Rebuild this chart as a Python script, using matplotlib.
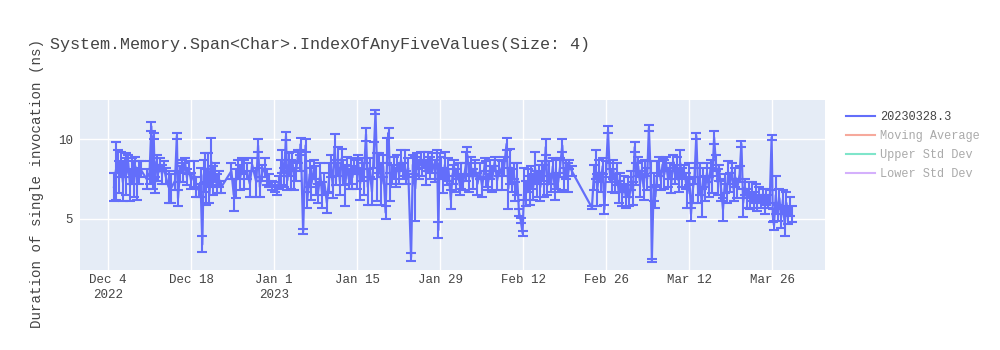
import matplotlib
matplotlib.use("Agg")
import matplotlib.pyplot as plt
from matplotlib.lines import Line2D
import numpy as np
import pandas as pd

# benchmark runs: day offset from first run, mean duration (ns), std dev (ns)
base_day = pd.Timestamp("2022-12-05")
day_off = [
    0.0, 0.3, 0.6, 0.9, 1.2, 1.5, 1.8, 2.1, 2.4, 2.7, 3.0, 3.3, 3.6, 3.9, 4.2, 4.5,
    5.5, 6.0, 6.3, 6.5, 6.7, 6.9, 7.2, 7.5, 7.8, 8.1, 8.4, 8.7,
    9.2, 9.6, 10.3, 10.6, 10.8, 11.1, 11.4, 11.7, 12.0, 12.3, 12.6, 13.0,
    13.5, 13.9, 14.3, 14.6, 14.9, 15.1, 15.4, 15.6, 15.9, 16.1, 16.4, 16.7, 17.0, 17.3, 17.7, 18.1,
    19.8, 20.2, 20.5, 20.9, 21.3, 21.6, 22.0, 22.4, 22.9, 23.3,
    24.0, 24.3, 24.6, 25.0, 25.4, 25.8, 26.2, 26.6,
    27.2, 27.5, 27.8, 28.1, 28.4, 28.7, 29.0, 29.2, 29.5, 29.8, 30.1, 30.4, 30.7, 31.0, 31.3, 31.5, 31.9,
    32.3, 32.6, 33.0, 33.3, 33.7, 34.0, 34.4, 34.8, 35.1, 35.5, 35.9, 36.3, 36.6, 36.9, 37.2, 37.5,
    37.8, 38.1, 38.4, 38.7, 39.0, 39.3, 39.6, 39.9, 40.2, 40.5,
    40.9, 41.2, 41.5, 41.8, 42.1, 42.5, 42.8, 43.1, 43.5, 43.8, 44.1, 44.4, 44.7, 45.1, 45.4, 45.8,
    46.1, 46.3, 46.6, 46.9, 47.2, 47.5, 47.8, 48.1, 48.4, 48.7, 49.0, 49.3, 49.6,
    50.1, 50.4, 50.8, 51.1, 51.4, 51.7, 52.0, 52.3, 52.6, 53.0, 53.3, 53.7, 54.1, 54.5, 54.7, 54.9,
    55.2, 55.5, 55.8, 56.1, 56.4, 56.8, 57.1, 57.4, 57.7, 58.0, 58.3, 58.6, 58.9, 59.3, 59.6, 59.9,
    60.2, 60.5, 60.9, 61.3, 61.7, 62.1, 62.5, 62.8, 63.1, 63.4, 63.8, 64.2,
    64.6, 65.0, 65.4, 65.8, 66.2, 66.5, 66.8, 67.1, 67.4, 67.7, 68.0, 68.3, 68.6, 68.9, 69.2,
    69.5, 69.8, 70.1, 70.4, 70.7, 71.0, 71.3, 71.6, 71.9, 72.2, 72.5, 72.8, 73.1, 73.4, 73.7,
    74.0, 74.3, 74.6, 74.9, 75.2, 75.6, 75.9, 76.2, 76.5, 76.8, 77.2,
    80.6, 80.9, 81.2, 81.5, 81.8, 82.1, 82.4, 82.7, 83.0, 83.3, 83.6,
    83.9, 84.2, 84.5, 84.8, 85.1, 85.4, 85.7, 86.0, 86.3, 86.6, 86.9, 87.2, 87.5, 87.8, 88.1,
    88.4, 88.7, 89.0, 89.3, 89.6, 89.9, 90.2, 90.5, 90.7, 91.0, 91.3, 91.6, 91.9, 92.2, 92.5,
    92.8, 93.1, 93.4, 93.7, 94.0, 94.3, 94.6, 94.9, 95.2, 95.5, 95.8, 96.1,
    96.4, 96.7, 97.0, 97.3, 97.6, 97.9, 98.2, 98.5, 98.8, 99.1, 99.4, 99.7, 100.0, 100.3, 100.6,
    100.9, 101.2, 101.5, 101.8, 102.1, 102.4, 102.7, 103.0, 103.3, 103.6, 103.9, 104.2,
    104.5, 104.8, 105.1, 105.5, 105.8, 106.1, 106.4, 106.7, 107.0, 107.3, 107.6, 107.9, 108.2,
    108.5, 108.8, 109.1, 109.4, 109.7, 110.0, 110.3, 110.6, 110.9, 111.1, 111.3, 111.6, 111.9,
    112.2, 112.5, 112.8, 113.1, 113.4, 113.7, 114.0, 114.3,
]
mean_ns = [
    7.0, 8.0, 8.6, 7.6, 8.4, 7.3, 8.2, 7.8, 8.5, 7.1, 8.0, 7.5, 8.3, 7.2, 7.9, 8.1,
    7.5, 7.9, 10.8, 7.2, 10.2, 7.1, 8.6, 7.9, 8.4, 7.8, 8.3, 7.7,
    7.0, 6.9, 7.4, 10.2, 6.3, 7.8, 8.3, 7.9, 8.5, 7.6, 8.2, 7.4,
    7.8, 7.0, 6.8, 7.3, 3.4, 7.7, 8.2, 7.0, 8.3, 6.5, 8.6, 7.4, 7.9, 7.2, 7.5, 7.0,
    8.0, 6.5, 7.2, 8.1, 7.6, 8.3, 7.8, 8.0, 7.2, 8.4,
    7.3, 9.6, 7.0, 7.9, 8.2, 7.6, 7.4, 7.1,
    7.0, 6.8, 7.3, 7.9, 8.6, 7.6, 10.2, 7.4, 8.4, 7.8, 8.6, 7.5, 8.0, 8.9, 8.5, 9.7, 4.2,
    9.6, 6.2, 7.8, 7.2, 8.1, 7.4, 6.6, 7.8, 6.5, 7.2, 6.0, 7.6, 8.3, 7.0, 9.5, 7.8,
    8.6, 7.3, 8.8, 7.9, 7.1, 8.4, 7.5, 8.0, 7.6, 8.3,
    7.8, 8.4, 7.2, 8.1, 7.5, 10.3, 7.0, 8.2, 6.7, 9.0, 11.7, 7.6, 8.5, 7.2, 8.3, 5.4,
    9.3, 10.4, 7.0, 7.8, 8.2, 7.6, 8.5, 7.8, 8.7, 8.0, 8.5, 7.6, 8.2,
    2.6, 8.4, 6.9, 8.6, 8.1, 8.8, 8.2, 8.7, 7.9, 8.6, 8.2, 8.5, 8.0, 8.8, 4.3, 8.5,
    8.2, 7.4, 8.4, 7.6, 8.1, 6.2, 7.8, 8.2, 7.4, 8.0, 7.1, 7.7, 7.3, 8.3, 9.0, 7.6,
    8.3, 7.5, 8.2, 7.2, 8.0, 7.0, 8.4, 7.8, 7.3, 8.1, 7.5, 8.6,
    7.4, 8.2, 7.7, 8.3, 9.7, 6.9, 8.3, 7.4, 8.0, 6.7, 7.5, 5.4, 4.9, 4.1, 7.2,
    6.6, 7.4, 6.8, 7.6, 7.0, 8.2, 7.2, 7.8, 7.0, 8.0, 7.4, 9.5, 7.1, 7.9, 7.2,
    8.3, 7.0, 7.8, 7.3, 8.2, 9.6, 7.5, 8.1, 7.6, 8.4, 8.0,
    5.7, 7.6, 8.4, 6.8, 8.0, 7.3, 8.3, 5.6, 8.1, 10.6, 7.9,
    7.4, 8.1, 7.2, 7.8, 6.7, 7.3, 6.5, 7.2, 6.4, 7.0, 6.3, 7.4, 6.6, 9.5, 7.8,
    8.3, 7.2, 8.1, 7.0, 8.2, 7.5, 10.7, 7.8, 2.4, 7.0, 6.4, 7.8, 8.3, 7.4, 8.4,
    7.8, 8.5, 7.6, 8.0, 7.3, 8.6, 7.8, 8.2, 7.4, 8.5, 7.6, 8.0,
    7.4, 6.6, 7.8, 5.3, 6.8, 7.7, 10.2, 6.8, 7.5, 6.0, 7.6, 6.9, 7.9, 7.0, 8.2,
    7.4, 10.1, 8.5, 7.3, 7.9, 6.8, 5.6, 7.2, 6.6, 7.9, 7.3, 8.0,
    6.8, 7.6, 6.9, 7.8, 9.7, 6.0, 7.0, 6.3, 6.8, 6.1, 6.7, 6.2, 6.6,
    6.0, 6.5, 6.1, 6.5, 5.9, 6.4, 6.1, 6.4, 10.1, 5.2, 4.6, 6.5, 5.4,
    6.3, 5.1, 6.2, 4.6, 6.0, 5.2, 5.8, 5.3,
]
std_ns = [
    0.9, 1.8, 0.7, 1.0, 0.8, 1.2, 0.6, 1.3, 0.5, 1.0, 0.8, 1.1, 0.6, 1.0, 0.7, 0.5,
    0.6, 0.7, 0.3, 0.3, 0.2, 0.5, 0.4, 0.5, 0.4, 0.6, 0.3, 0.5,
    1.0, 0.9, 0.6, 0.2, 0.5, 0.5, 0.4, 0.6, 0.3, 0.5, 0.4, 0.5,
    0.8, 0.6, 0.4, 0.9, 0.5, 1.0, 0.9, 1.1, 0.8, 0.5, 1.5, 0.9, 0.6, 0.6, 0.5, 0.4,
    0.5, 1.0, 0.9, 0.6, 0.8, 0.5, 0.9, 0.5, 0.8, 0.4,
    0.9, 0.4, 0.6, 0.5, 0.6, 0.5, 0.4, 0.3,
    0.3, 0.3, 0.4, 0.8, 0.7, 0.6, 0.25, 0.6, 0.7, 0.9, 0.6, 0.7, 0.6, 0.4, 0.5, 0.4, 0.15,
    0.4, 0.5, 0.8, 1.0, 0.6, 0.9, 0.6, 0.7, 0.8, 0.7, 0.6, 0.9, 0.7, 0.7, 0.8, 0.7,
    0.9, 0.8, 0.6, 0.8, 1.3, 0.5, 0.6, 0.8, 0.7, 0.5,
    0.9, 0.6, 1.0, 0.7, 1.0, 0.4, 1.1, 0.6, 0.8, 0.8, 0.15, 1.5, 0.6, 1.3, 0.7, 0.4,
    0.8, 0.3, 0.9, 0.6, 0.7, 0.6, 0.5, 0.6, 0.6, 0.5, 0.8, 0.4, 0.6,
    0.25, 0.6, 2.0, 0.5, 0.6, 0.4, 0.5, 0.5, 0.8, 0.6, 0.7, 0.6, 0.7, 0.5, 0.5, 0.6,
    0.7, 0.8, 0.8, 0.5, 0.7, 0.6, 0.6, 0.5, 0.7, 0.5, 0.6, 0.8, 0.5, 0.9, 0.5, 0.9,
    0.6, 0.6, 0.5, 0.7, 0.5, 0.6, 0.4, 0.8, 0.5, 0.6, 0.8, 0.3,
    0.6, 0.5, 0.9, 0.6, 0.4, 1.3, 1.1, 0.7, 0.5, 0.6, 1.0, 0.2, 0.15, 0.15, 1.0,
    0.8, 0.7, 0.9, 0.7, 0.8, 1.0, 0.8, 0.6, 0.9, 0.6, 1.0, 0.5, 0.6, 0.7, 0.5,
    0.5, 0.8, 0.9, 0.6, 0.6, 0.4, 0.7, 0.6, 0.9, 0.3, 0.3,
    0.1, 0.8, 0.9, 1.0, 0.7, 0.6, 0.5, 0.3, 0.5, 0.2, 0.6,
    0.7, 0.6, 0.6, 0.7, 0.7, 0.6, 0.7, 0.5, 0.7, 0.6, 0.5, 0.6, 0.7, 0.3, 0.7,
    0.6, 0.8, 0.5, 0.8, 0.5, 0.7, 0.2, 0.8, 0.1, 0.9, 0.7, 0.8, 0.6, 0.6, 0.4,
    0.9, 0.4, 0.6, 0.5, 0.7, 0.4, 0.6, 0.7, 0.7, 0.8, 0.6, 0.4,
    0.5, 0.9, 0.7, 0.4, 0.8, 0.5, 0.2, 0.8, 1.0, 0.9, 0.6, 0.8, 0.6, 0.6, 0.5,
    0.8, 0.4, 0.5, 0.8, 0.5, 0.7, 0.7, 0.6, 0.6, 0.7, 0.6, 0.5,
    0.7, 0.6, 0.6, 0.5, 0.2, 0.9, 0.5, 0.6, 0.5, 0.5, 0.6, 0.5, 0.6,
    0.5, 0.5, 0.4, 0.4, 0.6, 0.5, 0.4, 0.4, 0.15, 0.4, 0.3, 1.2, 0.5,
    0.6, 0.7, 0.6, 0.7, 0.7, 0.5, 0.6, 0.5,
]

run_label = "20230328.3"
hidden_series = ["Moving Average", "Upper Std Dev", "Lower Std Dev"]
hidden_colors = ["#EF553B", "#00CC96", "#AB63FA"]

tick_dates = ["2022-12-04", "2022-12-18", "2023-01-01", "2023-01-15", "2023-01-29",
              "2023-02-12", "2023-02-26", "2023-03-12", "2023-03-26"]
tick_text = ["Dec 4\n2022", "Dec 18", "Jan 1\n2023", "Jan 15", "Jan 29",
             "Feb 12", "Feb 26", "Mar 12", "Mar 26"]

times = base_day + pd.to_timedelta(np.array(day_off), unit="D")

font = "Liberation Mono"
txt = "#444444"
line_c = "#636EFA"

fig = plt.figure(figsize=(10, 3.5), dpi=100)
ax = fig.add_axes([0.08, 1 - 270 / 350, 0.745, 170 / 350])
ax.set_facecolor("#E5ECF6")
for s in ax.spines.values():
    s.set_visible(False)

# capsize is half the cap width, so 3.6 pt gives ~10 px caps
ax.errorbar(times, mean_ns, yerr=std_ns, color=line_c, lw=1.6, elinewidth=1.5,
            capsize=3.6, capthick=1.5, zorder=3)

ax.set_ylim(1.8, 12.45)
ax.set_xlim(base_day + pd.Timedelta(days=-5.73), base_day + pd.Timedelta(days=119.9))
ax.set_yticks([5, 10])
ax.set_yticklabels(["5", "10"])
ax.set_xticks(pd.to_datetime(tick_dates))
ax.set_xticklabels(tick_text, linespacing=1.35)
ax.grid(True, color="white", lw=1)
ax.set_axisbelow(True)
ax.tick_params(length=0, labelsize=9, labelcolor=txt, pad=3)
ax.tick_params(axis="y", pad=5)
for lbl in ax.get_xticklabels() + ax.get_yticklabels():
    lbl.set_family(font)

fig.text(0.05, 1 - 45 / 350, "System.Memory.Span<Char>.IndexOfAnyFiveValues(Size: 4)",
         fontsize=12.1, family=font, color=txt, va="center", ha="left")
fig.text(0.037, 1 - 184 / 350, "Duration of single invocation (ns)", rotation=90,
         fontsize=10.2, family=font, color=txt, va="center", ha="center")

handles = [Line2D([], [], color=line_c, lw=1.5)]
handles += [Line2D([], [], color=c, lw=1.5, alpha=0.5) for c in hidden_colors]
leg = fig.legend(handles, [run_label] + hidden_series, loc="upper left",
                 bbox_to_anchor=(0.841, 1 - 106 / 350), frameon=False,
                 prop={"family": font, "size": 8.6}, handlelength=2.45,
                 handletextpad=0.45, labelspacing=0.6, borderaxespad=0)
for i, t in enumerate(leg.get_texts()):
    t.set_color(txt if i == 0 else "#aaaaaa")

fig.savefig("out.png", dpi=100)
